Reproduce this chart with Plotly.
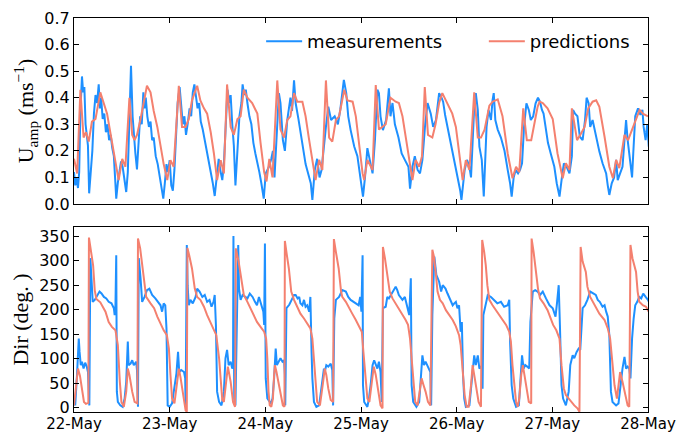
import pandas as pd
import plotly.graph_objects as go

# ---------------- data (hours after 22-May 00:00) -------------
start = pd.Timestamp("2017-05-22")

pred_speed_h = [0, 0.8, 1.6, 2.4, 3.0, 3.7, 4.5, 5.4, 6.6, 7.5, 8.3, 9.1, 10.0, 10.8, 11.2, 12.1, 12.9,
                13.9, 14.6, 15.2, 15.8, 16.7, 17.5, 18.3, 19.2, 20.0, 20.9, 21.7, 22.5, 23.4, 24.2, 25.0,
                26.3, 27.1, 28.0, 28.8, 29.6, 30.9, 31.7, 32.6, 33.4, 34.3, 35.1, 35.9, 36.8, 37.6,
                38.4, 39.3, 40.1, 41.0, 41.8, 42.6, 43.5, 44.7, 46.0, 46.8, 47.7, 48.3, 49.0, 49.8,
                51.0, 51.8, 52.7, 53.5, 54.3, 55.2, 56.0, 57.3, 58.1, 58.9, 59.8, 60.6, 61.5, 62.3,
                63.2, 64.0, 64.8, 65.7, 66.5, 67.8, 68.6, 69.9, 70.7, 71.6, 72.4, 72.8, 73.6, 74.9,
                75.7, 76.5, 77.4, 78.2, 79.4, 80.7, 81.5, 82.4, 83.6, 84.9, 85.7, 86.6, 87.3,
                88.0, 88.8, 89.9, 90.7, 91.6, 92.4, 93.7, 94.9, 95.8, 96.6, 97.5, 98.3, 99.2,
                100.4, 101.3, 102.1, 103.0, 104.2, 105.0, 106.3, 107.5, 108.8, 110.0, 110.9, 111.7,
                112.7, 113.6, 114.7, 115.5, 116.3, 116.8, 117.6, 118.8, 120.1, 121.3, 122.6, 123.4, 124.3,
                124.9, 125.6, 126.2, 127.2, 128.1, 129.0, 130.1, 131.0, 131.8, 133.1, 134.3, 135.2, 136.0, 136.8,
                138.1, 139.0, 140.2, 141.0, 141.9, 142.7, 144.0]
pred_speed = [0.17, 0.115, 0.43, 0.25, 0.27, 0.235, 0.31, 0.32, 0.42, 0.38, 0.34, 0.27, 0.19, 0.115, 0.09, 0.17, 0.14,
              0.40, 0.26, 0.24, 0.26, 0.32, 0.39, 0.445, 0.42, 0.35, 0.29, 0.216, 0.15, 0.09, 0.165, 0.14,
              0.445, 0.29, 0.29, 0.32, 0.39, 0.445, 0.39, 0.36, 0.34, 0.27, 0.19, 0.09, 0.165, 0.115,
              0.45, 0.29, 0.26, 0.32, 0.33, 0.43, 0.40, 0.38, 0.34, 0.23, 0.12, 0.085, 0.17, 0.10,
              0.465, 0.28, 0.25, 0.316, 0.33, 0.417, 0.385, 0.385, 0.33, 0.25, 0.166, 0.09, 0.166, 0.128,
              0.465, 0.25, 0.235, 0.316, 0.33, 0.43, 0.39, 0.385, 0.33, 0.216, 0.115, 0.09, 0.166, 0.128,
              0.448, 0.28, 0.29, 0.30, 0.40, 0.385, 0.38, 0.33, 0.216, 0.09, 0.166, 0.14, 0.18,
              0.44, 0.26, 0.25, 0.30, 0.38, 0.417, 0.38, 0.34, 0.29, 0.19, 0.09, 0.165, 0.128,
              0.42, 0.25, 0.25, 0.28, 0.37, 0.385, 0.394, 0.33, 0.19, 0.097, 0.14, 0.12,
              0.36, 0.24, 0.24, 0.30, 0.365, 0.385, 0.38, 0.36, 0.32, 0.19, 0.097, 0.153, 0.128,
              0.36, 0.29, 0.24, 0.265, 0.29, 0.36, 0.385, 0.39, 0.366, 0.253, 0.14, 0.097, 0.166, 0.135,
              0.26, 0.24, 0.29, 0.316, 0.354, 0.34, 0.33]

meas_speed_h = [0, 0.3, 0.6, 1.0, 1.3, 1.6, 2.0, 2.3, 2.6, 2.9, 3.2, 3.5, 3.8, 4.2, 4.6, 5.0, 5.4, 5.8, 6.2, 6.5,
                6.8, 7.2, 7.6, 8.0, 8.4, 8.8, 9.2, 9.6, 10.0, 10.3, 10.6, 11.0, 11.4, 11.8, 12.2, 12.6, 13.1,
                13.5, 13.9, 14.3, 14.7, 15.0, 15.4, 15.8, 16.2, 16.6, 17.0, 17.4, 17.7, 18.0, 18.4, 18.8,
                19.2, 19.6, 20.0, 20.5, 21.0, 21.5, 22.0, 22.4, 22.8, 23.2, 23.6, 24.0, 24.4, 24.8, 25.2,
                25.6, 26.0, 26.5, 26.9, 27.3, 27.7, 28.1, 28.5, 29.0, 29.4, 29.8, 30.2, 30.6, 31.0, 31.4,
                31.8, 32.3, 32.8, 33.3, 33.8, 34.3, 34.8, 35.3, 35.8, 36.3, 36.8, 37.2, 37.6, 38.0, 38.5,
                39.0, 39.3, 39.7, 40.1, 40.5, 41.0, 41.5, 42.0, 42.3, 42.7, 43.1, 43.5, 44.0, 44.5, 45.0,
                45.5, 46.0, 46.5, 47.0, 47.6, 48.1, 48.9, 49.5, 49.9, 50.3, 50.9, 51.4, 51.8, 52.4, 52.9,
                53.5, 54.3, 54.7, 55.2, 55.6, 56.3, 56.9, 57.5, 58.1, 58.5, 59.0, 59.4, 59.8, 60.4, 61.0,
                61.6, 62.1, 62.7, 63.2, 63.8, 64.5, 65.4, 66.2, 66.8, 67.3, 67.7, 68.3, 68.8, 69.4, 70.3,
                71.1, 71.9, 72.5, 73.0, 73.6, 74.2, 74.9, 75.5, 76.1, 76.5, 76.9, 77.5, 78.3, 79.0, 79.4,
                79.9, 80.5, 81.4, 82.2, 83.0, 83.9, 84.3, 84.9, 85.5, 86.2, 86.8, 87.4, 88.1, 88.7, 89.5,
                90.1, 90.8, 91.6, 92.2, 92.6, 93.1, 93.7, 94.6, 95.4, 96.3, 96.9, 97.2, 97.6, 98.0, 98.6,
                99.2, 99.6, 100.1, 100.4, 100.8, 101.3, 101.7, 102.3, 102.8, 103.1, 103.5, 104.0, 104.6,
                105.0, 105.3, 105.7, 106.3, 107.1, 108.0, 108.8, 109.4, 109.8, 110.3, 110.8, 111.4, 111.9,
                112.4, 112.9, 113.5, 114.1, 114.6, 115.2, 115.8, 116.4, 116.9, 117.4, 117.8, 118.3, 118.9,
                119.6, 120.5, 121.1, 121.8, 122.4, 122.9, 123.6, 124.3, 124.9, 125.2, 125.7, 126.3, 126.9,
                127.6, 128.2, 128.6, 129.1, 129.5, 130.1, 130.9, 131.8, 132.6, 133.5, 133.9, 134.3, 134.9,
                135.5, 136.0, 136.4, 137.0, 137.6, 138.1, 138.5, 138.9, 139.5, 140.0, 140.3, 140.8, 141.5,
                142.1, 142.6, 142.9, 143.4, 143.8, 144.2]
meas_speed = [0.12, 0.07, 0.10, 0.06, 0.12, 0.35, 0.48, 0.42, 0.44, 0.30, 0.26, 0.22, 0.04, 0.12, 0.20, 0.34, 0.41,
              0.38, 0.45, 0.36, 0.40, 0.32, 0.34, 0.27, 0.30, 0.24, 0.26, 0.21, 0.18, 0.10, 0.02, 0.08, 0.12,
              0.16, 0.14, 0.09, 0.045, 0.12, 0.30, 0.52, 0.33, 0.26, 0.19, 0.13, 0.23, 0.33, 0.30, 0.42, 0.36,
              0.40, 0.33, 0.29, 0.31, 0.24, 0.25, 0.18, 0.15, 0.10, 0.06, 0.02, 0.08, 0.15, 0.12, 0.165, 0.07,
              0.05, 0.13, 0.28, 0.38, 0.44, 0.36, 0.30, 0.33, 0.26, 0.30, 0.36, 0.33, 0.42, 0.45, 0.40, 0.36,
              0.38, 0.31, 0.28, 0.24, 0.21, 0.17, 0.13, 0.08, 0.03, 0.10, 0.17, 0.12, 0.09, 0.15, 0.30, 0.43,
              0.38, 0.41, 0.30, 0.22, 0.07, 0.20, 0.33, 0.38, 0.45, 0.41, 0.43, 0.38, 0.33, 0.30, 0.23, 0.19,
              0.16, 0.12, 0.078, 0.02, 0.115, 0.14, 0.17, 0.20, 0.10, 0.29, 0.417, 0.38, 0.24, 0.20, 0.316,
              0.40, 0.35, 0.465, 0.38, 0.32, 0.265, 0.20, 0.15, 0.128, 0.10, 0.078, 0.015, 0.128, 0.17, 0.10,
              0.128, 0.23, 0.29, 0.366, 0.316, 0.33, 0.30, 0.354, 0.417, 0.467, 0.417, 0.33, 0.278, 0.216,
              0.18, 0.10, 0.028, 0.10, 0.21, 0.166, 0.115, 0.24, 0.43, 0.417, 0.33, 0.278, 0.316, 0.435, 0.33,
              0.38, 0.30, 0.25, 0.19, 0.166, 0.14, 0.058, 0.14, 0.18, 0.128, 0.115, 0.166, 0.30, 0.38, 0.34,
              0.29, 0.316, 0.417, 0.40, 0.385, 0.335, 0.29, 0.23, 0.166, 0.10, 0.05, 0.015, 0.08, 0.128, 0.166,
              0.14, 0.10, 0.25, 0.365, 0.417, 0.354, 0.216, 0.166, 0.028, 0.166, 0.29, 0.354, 0.316,
              0.39, 0.417, 0.316, 0.28, 0.25, 0.20, 0.128, 0.078, 0.028, 0.10, 0.128, 0.115, 0.128,
              0.153, 0.29, 0.379, 0.354, 0.316, 0.33, 0.379, 0.40, 0.385, 0.354, 0.34, 0.29, 0.23,
              0.19, 0.14, 0.078, 0.028, 0.10, 0.153, 0.14, 0.115, 0.18, 0.354, 0.34, 0.33, 0.253,
              0.24, 0.316, 0.40, 0.379, 0.29, 0.316, 0.253, 0.197, 0.153, 0.115, 0.07, 0.034, 0.078,
              0.10, 0.166, 0.09, 0.115, 0.14, 0.24, 0.316, 0.24, 0.166, 0.10, 0.19, 0.33, 0.36,
              0.335, 0.354, 0.29, 0.24, 0.30, 0.216]

pred_dir_h = [0, 0.4, 1.0, 1.5, 2.0, 2.5, 3.0, 3.6, 3.75, 4.3, 4.8, 5.2, 5.6, 6.6, 7.9, 8.7, 9.5, 10.4, 11.0, 11.5,
              11.9, 12.5, 13.1, 13.5, 13.9, 14.6, 15.2, 15.9, 16.05, 16.6, 17.0, 17.5, 18.1, 19.2, 20.1, 20.9,
              21.7, 22.5, 23.3, 23.8, 24.2, 24.6, 25.2, 25.9, 26.3, 26.7, 27.3, 28.0, 28.3, 28.45, 28.9, 29.6,
              30.3, 30.9, 31.7, 32.6, 33.4, 34.3, 35.1, 35.7, 36.4, 36.8, 37.2, 37.6, 38.2, 38.6, 39.3, 39.9,
              40.4, 40.6, 41.3, 42.0, 42.6, 43.5, 44.3, 45.1, 45.9, 46.8, 47.7, 48.2, 48.5, 48.8, 49.1, 49.5,
              49.9, 50.2, 50.4, 50.8, 51.4, 51.9, 52.4, 52.8, 52.9, 53.4, 53.9, 54.5, 55.2, 56.0, 56.8, 57.7,
              58.5, 59.3, 59.8, 60.2, 60.6, 61.0, 61.7, 62.1, 62.5, 62.9, 63.3, 63.8, 64.4, 65.0, 65.2, 65.7,
              66.4, 67.0, 67.3, 68.2, 69.0, 69.8, 70.7, 71.5, 72.2, 72.6, 73.2, 73.6, 74.1, 74.7, 75.2, 75.7,
              76.4, 76.9, 77.4, 77.5, 78.0, 78.6, 79.2, 79.9, 80.7, 81.5, 82.4, 83.2, 83.8, 84.3, 84.7, 85.1,
              85.6, 86.2, 86.7, 87.2, 87.7, 88.2, 88.8, 89.4, 89.9, 90.3, 90.8, 91.2, 91.8, 92.5, 93.3, 94.1,
              95.0, 95.8, 96.6, 97.0, 97.6, 98.0, 98.5, 99.0, 99.6, 100.0, 100.4, 101.0, 101.5, 102.1, 102.4,
              102.9, 103.3, 103.7, 104.2, 105.0, 105.9, 106.7, 107.5, 108.4, 109.2, 109.6, 110.0, 110.4,
              110.9, 111.3, 111.7, 112.2, 112.6, 113.0, 113.6, 114.1, 114.7, 114.8, 115.3, 115.9, 116.4,
              116.9, 117.8, 118.8, 119.6, 120.2, 121.0, 121.8, 122.3, 122.9, 123.4, 124.1, 124.7, 125.5,
              126.3, 126.8, 127.1, 127.6, 128.4, 128.8, 129.5, 130.6, 131.8, 133.1, 133.9, 134.5, 135.0,
              135.6, 136.2, 136.6, 137.0, 137.6, 138.3, 138.9, 139.3, 139.6, 140.1, 141.0, 141.4, 141.8,
              142.7, 143.5, 144.2]
pred_dir = [5, 40, 80, 65, 38, 12, 8, 10, 347, 318, 290, 240, 222, 215, 196, 175, 165, 158, 128, 53,
            12, 2, 33, 80, 67, 33, 12, 9, 345, 325, 298, 257, 226, 213, 203, 186,
            172, 158, 148, 121, 67, 19, 9, 50, 80, 63, 33, -5, -8, 326, 311, 284,
            243, 226, 220, 206, 189, 172, 158, 148, 101, 46, 16, 12, 53, 84, 53, 12,
            2, 325, 298, 257, 230, 216, 203, 189, 175, 165, 155, 141, 100, 33, 5, 2,
            19, 67, 87, 73, 46, 19, 5, 2, 340, 311, 284, 237, 220, 206, 192, 182,
            172, 162, 141, 101, 46, 12, 5, 26, 53, 80, 67, 39, 16, 12, 344, 318,
            284, 237, 226, 216, 203, 192, 179, 165, 155, 114, 60, 19, 12, 53, 84, 67,
            33, 5, -1, 328, 305, 271, 237, 223, 213, 203, 189, 179, 169, 141, 101, 53,
            12, 5, 33, 60, 46, 33, 12, 5, 322, 308, 271, 237, 220, 213, 199, 189,
            179, 166, 148, 128, 67, 26, 2, 2, 46, 87, 67, 39, 12, 2, 342,
            318, 291, 250, 220, 209, 199, 189, 179, 169, 155, 135, 87, 46,
            12, 2, 19, 67, 87, 67, 33, 12, 9, 345, 318, 277, 243,
            223, 213, 199, 182, 169, 158, 141, 87, 39, 26, 19, 12, 5,
            -1, -8, 328, 298, 277, 247, 226, 209, 192, 179, 162, 141, 94,
            46, 19, 53, 73, 53, 26, 5, 2, 332, 305, 277, 237, 216,
            209, 206, 196]

meas_dir_h = [0, 0.3, 0.75, 1.2, 1.4, 1.7, 2.0, 2.4, 2.8, 3.2, 3.5, 3.85, 4.1, 4.35, 4.7, 5.2, 5.8, 6.4, 6.9, 7.5,
              8.1, 8.7, 9.4, 10.0, 10.2, 10.4, 10.6, 10.75, 11.0, 11.6, 12.2, 12.7, 13.1, 13.5, 13.7, 14.2,
              14.6, 15.0, 15.6, 15.8, 16.05, 16.25, 16.7, 17.1, 17.7, 18.3, 18.9, 19.6, 20.4, 21.1, 21.7,
              22.1, 22.5, 22.9, 23.2, 23.5, 24.0, 24.6, 25.2, 25.7, 26.1, 26.4, 26.9, 27.6, 27.9, 28.0, 28.3,
              28.5, 28.8, 29.2, 29.8, 30.5, 30.9, 31.5, 32.2, 32.8, 33.4, 34.0, 34.5, 35.0, 35.3, 35.6, 35.9,
              36.4, 37.0, 37.6, 38.0, 38.4, 38.8, 39.3, 39.7, 39.9, 40.0, 40.2, 40.5, 40.9, 41.2, 41.4, 41.8,
              42.3, 42.9, 43.5, 44.1, 44.8, 45.4, 45.9, 46.4, 47.0, 47.5, 47.7, 47.9, 48.1, 48.5, 49.4, 49.8,
              50.2, 50.6, 50.9, 51.4, 51.8, 52.3, 52.7, 52.9, 53.0, 53.3, 54.0, 54.6, 55.2, 55.6, 56.1, 56.5,
              56.8, 57.3, 57.7, 58.1, 58.5, 59.0, 59.3, 59.6, 59.8, 60.2, 60.8, 61.5, 61.9, 62.3, 62.7, 62.9,
              63.3, 63.8, 64.4, 64.8, 65.0, 65.3, 65.7, 66.5, 67.3, 68.2, 68.8, 69.4, 70.0, 70.7, 71.4, 71.8,
              72.1, 72.4, 72.5, 72.8, 73.6, 74.0, 74.5, 74.9, 75.3, 75.7, 76.1, 76.5, 76.9, 77.2, 77.5, 78.2,
              78.6, 79.0, 79.9, 80.7, 81.1, 81.5, 82.4, 83.0, 83.6, 84.1, 84.5, 84.7, 85.1, 85.9, 86.6, 87.0,
              87.4, 87.8, 88.2, 88.6, 89.1, 89.4, 89.6, 89.9, 90.4, 90.9, 91.6, 92.1, 92.5, 93.2, 93.7, 94.1,
              94.6, 95.0, 95.4, 95.8, 96.2, 96.6, 97.0, 97.3, 97.6, 97.9, 98.3, 99.2, 99.6, 100.0, 100.4,
              100.8, 101.3, 101.7, 102.1, 102.4, 102.5, 102.7, 102.9, 103.3, 103.8, 104.6, 105.4, 106.2,
              107.1, 107.9, 108.8, 109.2, 109.4, 109.8, 110.2, 110.9, 111.6, 112.0, 112.4, 112.8, 113.2,
              113.7, 114.2, 114.5, 115.1, 115.7, 116.3, 116.9, 117.6, 118.4, 119.3, 120.1, 120.8, 121.2,
              121.6, 121.9, 122.3, 122.7, 123.4, 124.1, 124.5, 125.1, 125.5, 126.1, 126.6, 127.0, 127.3,
              127.6, 128.2, 128.8, 129.5, 130.2, 130.9, 131.4, 131.9, 132.6, 133.1, 133.5, 133.9, 134.3,
              134.7, 135.1, 136.0, 136.6, 137.2, 137.6, 138.1, 138.5, 138.9, 139.3, 139.6, 140.0, 140.4,
              140.8, 141.3, 141.8, 142.3, 142.8, 143.4, 144.0, 144.4]
meas_dir = [19, 5, 67, 141, 114, 87, 94, 80, 92, 84, 73, 5, 305, 264, 216, 220, 230, 237, 233, 226,
            223, 216, 213, 203, 189, 209, 311, 33, 12, 5, 2, 19, 53, 135, 87, 90,
            97, 87, 94, 77, 2, 305, 264, 216, 226, 240, 243, 230, 223, 216, 209,
            196, 213, 209, 162, 5, 2, 9, 46, 70, 114, 73, 77, 73, 60, 2, 332,
            250, 209, 220, 213, 226, 243, 237, 226, 230, 216, 220, 206, 216, 230, 169, 33,
            12, 5, 33, 101, 118, 87, 94, 80, 84, 350, 19, 5, 200, 332, 243, 220,
            230, 226, 223, 233, 226, 216, 209, 226, 209, 196, 169, 335, 60, 19, 9, 19,
            60, 121, 87, 94, 101, 94, 97, 67, 5, 203, 210, 220, 230, 230, 223, 226,
            213, 209, 220, 206, 209, 196, 226, 114, 60, 12, 2, 5, 33, 60, 80, 73,
            87, 84, 90, 77, 5, 182, 220, 226, 240, 237, 226, 220, 216, 213, 209, 226,
            196, 311, 46, 12, 2, 19, 53, 87, 97, 90, 80, 94, 73, 12, 203, 206,
            226, 223, 237, 247, 240, 230, 220, 226, 206, 189, 264, 46, 12, 2, 12, 53,
            107, 87, 94, 87, 80, 73, 5, 189, 308, 271, 257, 237, 250, 243, 233, 226,
            216, 209, 213, 216, 203, 209, 155, 175, 67, 19, 2, 5, 39, 67, 107,
            87, 107, 80, 84, 78, 39, 189, 196, 216, 230, 226, 220, 213,
            216, 206, 209, 220, 135, 46, 19, 2, 5, 53, 107, 80, 87,
            84, 80, 175, 237, 240, 237, 230, 237, 223, 209, 203, 186, 216,
            250, 169, 46, 19, 5, 33, 87, 107, 101, 114, 121, 118, 169,
            203, 209, 220, 237, 233, 230, 220, 216, 206, 209, 196, 186, 148,
            33, 12, 5, 9, 53, 80, 104, 80, 84, 80, 60, 141, 182,
            209, 216, 226, 223, 233, 226, 220, 213]

y_speed_ticks = [0.0, 0.1, 0.2, 0.3, 0.4, 0.5, 0.6, 0.7]
y_dir_ticks = [0, 50, 100, 150, 200, 250, 300, 350]
day_ticks = ["2017-05-22", "2017-05-23", "2017-05-24", "2017-05-25", "2017-05-26", "2017-05-27", "2017-05-28"]
day_labels = ["22-May", "23-May", "24-May", "25-May", "26-May", "27-May", "28-May"]


def to_time(hours):
    return [start + pd.Timedelta(hours=h) for h in hours]


BLUE = "#1E90FF"
RED = "#F4806F"

fig = go.Figure()
fig.add_trace(go.Scatter(x=to_time(meas_speed_h), y=meas_speed, mode="lines", name="measurements",
                         line=dict(color=BLUE, width=2), xaxis="x", yaxis="y", legend="legend"))
fig.add_trace(go.Scatter(x=to_time(pred_speed_h), y=pred_speed, mode="lines", name="predictions",
                         line=dict(color=RED, width=2), xaxis="x", yaxis="y", legend="legend2"))
fig.add_trace(go.Scatter(x=to_time(meas_dir_h), y=meas_dir, mode="lines", name="measurements",
                         line=dict(color=BLUE, width=2), xaxis="x2", yaxis="y2", showlegend=False))
fig.add_trace(go.Scatter(x=to_time(pred_dir_h), y=pred_dir, mode="lines", name="predictions",
                         line=dict(color=RED, width=2), xaxis="x2", yaxis="y2", showlegend=False))

tickfont = dict(family="DejaVu Sans", size=16, color="black")
xtickfont = dict(family="DejaVu Sans", size=15, color="black")
titlefont = dict(family="Liberation Serif", size=22, color="black")
axis_common = dict(showline=True, linecolor="black", linewidth=1.2, mirror="ticks", ticks="inside",
                   ticklen=5, tickwidth=1, tickcolor="black", showgrid=False, zeroline=False,
                   automargin=False)

x_range = [pd.Timestamp(day_ticks[0]), pd.Timestamp(day_ticks[-1])]
legend_style = dict(orientation="h", yanchor="middle", xanchor="left",
                    font=dict(family="DejaVu Sans", size=18, color="black"),
                    bgcolor="rgba(0,0,0,0)", itemwidth=36)

fig.update_layout(
    width=691, height=432,
    margin=dict(l=74, r=43, t=18, b=20),
    paper_bgcolor="white", plot_bgcolor="white",
    showlegend=True,
    legend=dict(x=0.326, y=0.94, **legend_style),
    legend2=dict(x=0.714, y=0.94, **legend_style),
    xaxis=dict(domain=[0, 1], anchor="y", range=x_range, tickvals=day_ticks, ticktext=day_labels,
               showticklabels=False, tickfont=xtickfont, **axis_common),
    yaxis=dict(domain=[0.528, 1], anchor="x", range=[0, 0.7], tickvals=y_speed_ticks,
               ticktext=[f"{v:.1f}" for v in y_speed_ticks], tickfont=tickfont,
               title=dict(text="U<sub>amp</sub> (ms<sup>−1</sup>)", font=titlefont, standoff=4),
               **axis_common),
    xaxis2=dict(domain=[0, 1], anchor="y2", range=x_range, tickvals=day_ticks, ticktext=day_labels,
                tickfont=xtickfont, ticklabelstandoff=-2, **axis_common),
    yaxis2=dict(domain=[0, 0.4695], anchor="x2", range=[-8.5, 368.5], tickvals=y_dir_ticks,
                tickfont=tickfont,
                title=dict(text="Dir (deg. )", font=titlefont, standoff=4),
                **axis_common),
)

fig.write_html("out.html", config={"displayModeBar": False},
               post_script="document.body.style.margin='0';document.body.style.padding='0';")
